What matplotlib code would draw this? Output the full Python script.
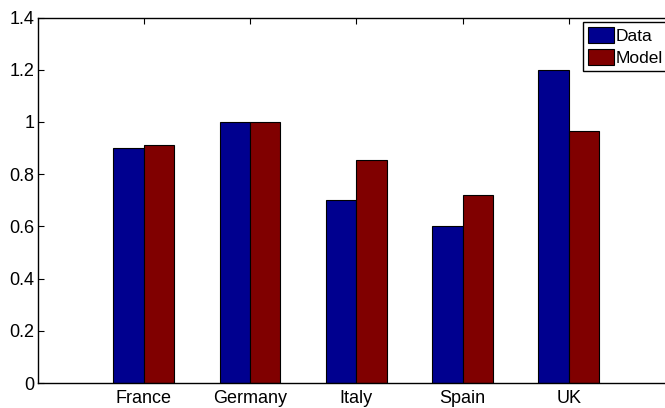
import matplotlib
matplotlib.use("Agg")
import matplotlib.pyplot as plt
import numpy as np

countries = ["France", "Germany", "Italy", "Spain", "UK"]
data_vals = [0.90, 1.00, 0.70, 0.60, 1.20]
model_vals = [0.913, 1.00, 0.854, 0.722, 0.967]
series_names = ["Data", "Model"]
yticks = [0, 0.2, 0.4, 0.6, 0.8, 1.0, 1.2, 1.4]
ytick_labels = ["0", "0.2", "0.4", "0.6", "0.8", "1", "1.2", "1.4"]

plt.rcParams["font.family"] = ["Liberation Sans", "DejaVu Sans"]

W, H = 665, 408
fig = plt.figure(figsize=(W / 100, H / 100), dpi=100)
left_px, right_px, top_px, bot_px = 37.5, 675.0, 17.6, 383.0
ax = fig.add_axes([left_px / W, 1 - bot_px / H, (right_px - left_px) / W, (bot_px - top_px) / H])

x = np.arange(1, len(countries) + 1)
bw = 0.2857
ax.bar(x - bw / 2, data_vals, width=bw, color="#00008F", edgecolor="black", linewidth=0.8, label=series_names[0], zorder=2)
ax.bar(x + bw / 2, model_vals, width=bw, color="#800000", edgecolor="black", linewidth=0.8, label=series_names[1], zorder=2)

ax.set_xlim(0, 6)
ax.set_ylim(0, 1.4)
ax.set_xticks(x)
ax.set_xticklabels(countries, fontsize=13)
ax.set_yticks(yticks)
ax.set_yticklabels(ytick_labels, fontsize=13)
ax.tick_params(axis="both", direction="in", length=4, width=0.8, top=True, right=True, colors="black")
ax.tick_params(axis="y", pad=2)
ax.tick_params(axis="x", pad=5)
for s in ax.spines.values():
    s.set_linewidth(1.0)
    s.set_zorder(3)

leg = fig.legend(loc="upper left", bbox_to_anchor=(582.7 / W, 1 - 21.5 / H), borderaxespad=0,
                 fontsize=12.5, handlelength=1.5, handleheight=1.05, handletextpad=0.12,
                 borderpad=0.3, labelspacing=0.3, fancybox=False, framealpha=1, edgecolor="black")
leg.get_frame().set_linewidth(1.0)

fig.savefig("out.png", dpi=100)
